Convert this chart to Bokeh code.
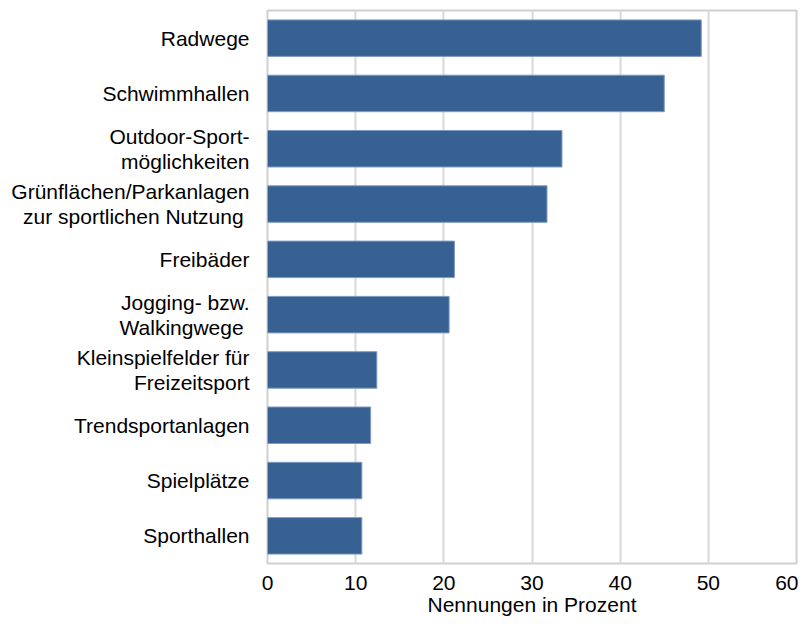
from bokeh.plotting import figure
from bokeh.models import ColumnDataSource, FactorRange, Range1d, FixedTicker
from bokeh.embed import file_html
from bokeh.resources import INLINE

categories = [
    "Radwege",
    "Schwimmhallen",
    "Outdoor-Sport-\nmöglichkeiten",
    "Grünflächen/Parkanlagen\nzur sportlichen Nutzung ",
    "Freibäder",
    "Jogging- bzw.\nWalkingwege ",
    "Kleinspielfelder für\nFreizeitsport",
    "Trendsportanlagen",
    "Spielplätze",
    "Sporthallen",
]
values = [49.2, 45.0, 33.4, 31.7, 21.2, 20.6, 12.4, 11.7, 10.7, 10.7]
x_ticks = [0, 10, 20, 30, 40, 50, 60]

FONT = "Liberation Sans"

src = ColumnDataSource(dict(cat=categories, val=values))

p = figure(
    width=798, height=618,
    y_range=FactorRange(factors=list(reversed(categories))),
    x_range=Range1d(0, 60),
    output_backend="svg", toolbar_location=None,
    min_border_left=267, min_border_right=2, min_border_top=10, min_border_bottom=54,
)
p.hbar(y="cat", right="val", left=0, height=0.66, source=src,
       fill_color="#386193", line_color="#7f9cc0", line_width=1)

p.outline_line_color = "#d0d0d0"
p.outline_line_width = 2
p.ygrid.grid_line_color = None
p.xgrid.grid_line_color = "#d9d9d9"
p.xgrid.grid_line_width = 2
p.xaxis.ticker = FixedTicker(ticks=x_ticks)

for ax in (p.xaxis[0], p.yaxis[0]):
    ax.axis_line_color = None
    ax.major_tick_line_color = None
    ax.minor_tick_line_color = None
    ax.major_tick_out = 0
    ax.major_tick_in = 0
    ax.major_label_text_font = FONT
    ax.major_label_text_font_size = "21px"
    ax.major_label_text_color = "#000000"

p.yaxis.major_label_standoff = 18
p.yaxis.major_label_text_line_height = 1.1
p.xaxis.major_label_standoff = 12
p.xaxis.axis_label = "Nennungen in Prozent"
p.xaxis.axis_label_text_font = FONT
p.xaxis.axis_label_text_font_size = "21px"
p.xaxis.axis_label_text_font_style = "normal"
p.xaxis.axis_label_text_color = "#000000"
p.xaxis.axis_label_standoff = 0

open("out.html", "w").write(file_html(p, INLINE))
